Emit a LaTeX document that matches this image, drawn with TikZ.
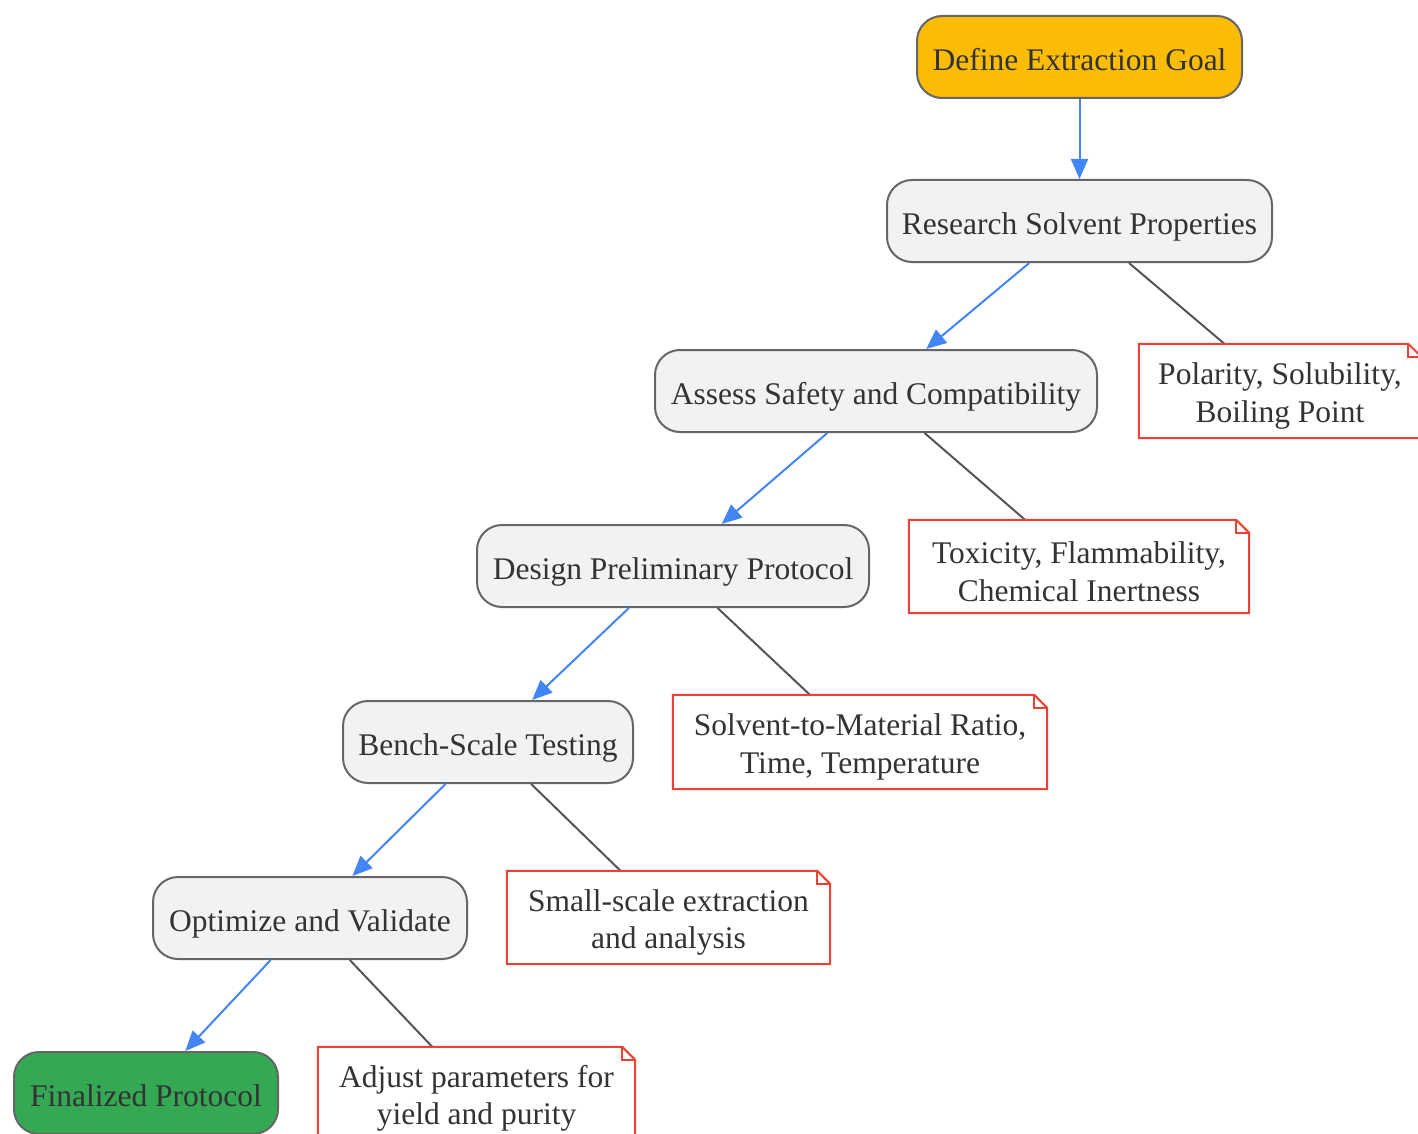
\documentclass[tikz,border=0pt]{standalone}
\usepackage{fontspec}
\setmainfont{Liberation Serif}
\usetikzlibrary{arrows.meta}
\definecolor{txt}{HTML}{333333}
\definecolor{bord}{HTML}{666666}
\definecolor{gold}{HTML}{FBBC05}
\definecolor{grn}{HTML}{34A853}
\definecolor{lgray}{HTML}{F1F2F4}
\definecolor{blu}{HTML}{4285F4}
\definecolor{rd}{HTML}{EA4335}
\definecolor{lnk}{HTML}{555555}
\tikzset{
  stepbox/.style={draw=bord, line width=2pt, rounded corners=25pt, fill=lgray,
    minimum height=82pt, inner sep=0pt, text=txt, text height=27pt, text depth=0pt,
    font=\fontsize{31.5}{37.5}\selectfont},
  notebox/.style={draw=none, minimum height=93pt, inner sep=0pt, text=txt,
    align=center, font=\fontsize{31.5}{37.5}\selectfont},
  flow/.style={draw=blu, line width=2pt, -{Triangle[length=20pt,width=17pt]}},
  link/.style={draw=lnk, line width=2pt},
  noteline/.style={draw=rd, line width=2pt, line join=miter}
}
\newcommand{\notedraw}[1]{%
  \draw[noteline, fill=white] (#1.north west) -- ([xshift=-13pt]#1.north east)
    -- ([yshift=-13pt]#1.north east) -- (#1.south east) -- (#1.south west) -- cycle;
  \draw[noteline] ([xshift=-13pt]#1.north east) -- ([xshift=-13pt,yshift=-13pt]#1.north east)
    -- ([yshift=-13pt]#1.north east);
}
\begin{document}
\begin{tikzpicture}[x=1pt,y=-1pt]
\useasboundingbox[fill=white] (0,0) rectangle (1418,1134);
% steps
\node[stepbox, fill=gold, minimum width=325pt] (goal) at (1079.5,57) {Define Extraction Goal};
\node[stepbox, minimum width=385pt] (res) at (1079.5,221) {Research Solvent Properties};
\node[stepbox, minimum width=442pt] (assess) at (876,391) {Assess Safety and Compatibility};
\node[stepbox, minimum width=392pt] (design) at (673,566) {Design Preliminary Protocol};
\node[stepbox, minimum width=290pt] (bench) at (488,742) {Bench-Scale Testing};
\node[stepbox, minimum width=314pt] (opt) at (310,918) {Optimize and Validate};
\node[stepbox, fill=grn, minimum width=264pt] (fin) at (146,1093) {Finalized Protocol};
% notes
\node[notebox, minimum width=282pt, minimum height=94pt] (n1) at (1280,391) {};
\node[notebox, minimum width=340pt] (n2) at (1079,566.5) {};
\node[notebox, minimum width=374pt, minimum height=94pt] (n3) at (860,742) {};
\node[notebox, minimum width=323pt] (n4) at (668.5,917.5) {};
\node[notebox, minimum width=317pt] (n5) at (476.5,1093.5) {};
% links to notes
\draw[link] (res) -- (n1);
\draw[link] (assess) -- (n2);
\draw[link] (design) -- (n3);
\draw[link] (bench) -- (n4);
\draw[link] (opt) -- (n5);
\notedraw{n1}\notedraw{n2}\notedraw{n3}\notedraw{n4}\notedraw{n5}
\node[notebox, yshift=-5pt] at (n1) {Polarity, Solubility,\\Boiling Point};
\node[notebox, yshift=-5pt] at (n2) {Toxicity, Flammability,\\Chemical Inertness};
\node[notebox, yshift=-5pt] at (n3) {Solvent-to-Material Ratio,\\Time, Temperature};
\node[notebox, yshift=-5pt] at (n4) {Small-scale extraction\\and analysis};
\node[notebox, yshift=-5pt] at (n5) {Adjust parameters for\\yield and purity};
% flow
\draw[flow] (goal) -- (res);
\draw[flow] (res) -- (assess);
\draw[flow] (assess) -- (design);
\draw[flow] (design) -- (bench);
\draw[flow] (bench) -- (opt);
\draw[flow] (opt) -- (fin);
\end{tikzpicture}
\end{document}
